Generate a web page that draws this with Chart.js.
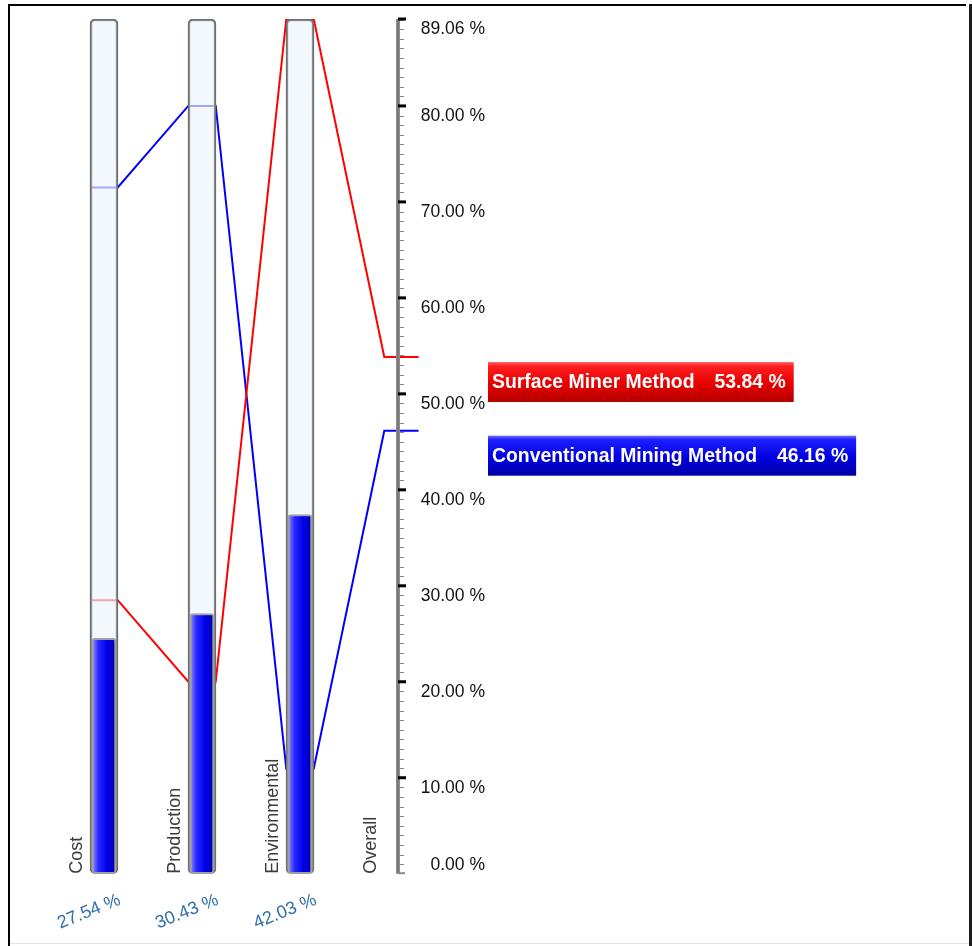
<!DOCTYPE html>
<html>
<head>
<meta charset="utf-8">
<script src="https://cdn.jsdelivr.net/npm/chart.js@4/dist/chart.umd.min.js"></script>
<style>
  html, body { margin: 0; padding: 0; background: #ffffff; }
  canvas { display: block; }
</style>
</head>
<body>
<canvas id="chart" width="972" height="946"></canvas>
<script>
// Criteria and their weights (percent of the goal)
const criteria = ['Cost', 'Production', 'Environmental'];
const overallLabel = 'Overall';
const weights = [27.54, 30.43, 42.03];

// Alternatives: performance on each criterion, and the overall result
const alternatives = ['Surface Miner Method', 'Conventional Mining Method'];
const surfaceMiner = [28.5, 20.0, 89.06];
const conventional = [71.5, 80.0, 10.94];
const overall = [53.84, 46.16];

// Performance axis
const axisTicks = [0, 10, 20, 30, 40, 50, 60, 70, 80, 89.06];
const axisTickLabels = ['0.00 %', '10.00 %', '20.00 %', '30.00 %', '40.00 %', '50.00 %',
                        '60.00 %', '70.00 %', '80.00 %', '89.06 %'];
const weightScaleMax = 100;

const FONT = '"Liberation Sans", Arial, Helvetica, sans-serif';
const altColors = ['#ff0000', '#0000ff'];
const HALF = 0.14;                 // half of a weight bar, in category units
const OV_LEFT = 0.14, OV_RIGHT = 0.21;

// Each alternative runs flat across every criterion bar, then on to the overall axis
function pathFor(values, total) {
  const pts = [];
  values.forEach((v, i) => {
    pts.push({ x: i - HALF, y: v }, { x: i + HALF, y: v });
  });
  const o = criteria.length;
  pts.push({ x: o - OV_LEFT, y: total }, { x: o + OV_RIGHT, y: total });
  return pts;
}

function weightFill(ctx) {
  const chart = ctx.chart;
  const xs = chart.scales && chart.scales.x;
  if (!xs || !ctx.parsed) return '#0000e0';
  const cx = xs.getPixelForValue(ctx.parsed.x);
  if (!Number.isFinite(cx)) return '#0000e0';
  const g = chart.ctx.createLinearGradient(cx - 11, 0, cx + 11, 0);
  g.addColorStop(0, '#8282ff');
  g.addColorStop(0.25, '#2828ff');
  g.addColorStop(0.65, '#0000ea');
  g.addColorStop(1, '#0000b4');
  return g;
}

// Page frame
const framePlugin = {
  id: 'frame',
  beforeDraw(chart) {
    const c = chart.ctx;
    c.save();
    c.fillStyle = '#ffffff';
    c.fillRect(0, 0, chart.width, chart.height);
    c.fillStyle = '#000000';
    c.fillRect(8, 4, 2, chart.height - 4);
    c.fillRect(8, 4, 958, 2);
    c.fillStyle = '#1c1c1c';
    c.fillRect(969, 4, 3, chart.height - 4);
    c.fillStyle = '#e4e4e4';
    c.fillRect(10, 943, 959, 1);
    c.restore();
  }
};

// Performance axis drawn at the "Overall" position
const axisPlugin = {
  id: 'perfAxis',
  afterDatasetsDraw(chart) {
    const c = chart.ctx;
    const xs = chart.scales.x, ys = chart.scales.y;
    const ax = xs.getPixelForValue(criteria.length);
    const yTop = ys.getPixelForValue(ys.max), yBot = ys.getPixelForValue(0);
    c.save();
    // minor ticks every 1 %
    c.strokeStyle = '#8a8a8a';
    c.lineWidth = 1;
    for (let v = 1; v < ys.max; v++) {
      if (v % 10 === 0) continue;
      const y = Math.round(ys.getPixelForValue(v)) + 0.5;
      c.beginPath(); c.moveTo(ax + 1, y); c.lineTo(ax + 6, y); c.stroke();
    }
    // axis line
    c.fillStyle = '#8c8c8c';
    c.fillRect(ax - 2, yTop, 4, yBot - yTop);
    c.fillStyle = '#6a6a6a';
    c.fillRect(ax - 0.5, yTop, 1, yBot - yTop);
    // major ticks and labels
    c.font = '17.5px ' + FONT;
    c.textAlign = 'right';
    c.textBaseline = 'middle';
    axisTicks.forEach((v, i) => {
      const y = ys.getPixelForValue(v);
      if (v === 0) {
        c.fillStyle = '#8a8a8a';
        c.fillRect(ax, y - 1.5, 7, 2);
      } else {
        c.fillStyle = '#000000';
        c.fillRect(ax, y - 1.5, 8, 3);
      }
      c.fillStyle = '#111111';
      c.fillText(axisTickLabels[i], ax + 87, v === 0 ? y - 9 : y + 10);
    });
    c.restore();
  }
};

// Criterion names, weight labels and the result boxes
const labelPlugin = {
  id: 'labels',
  afterDraw(chart) {
    const c = chart.ctx;
    const xs = chart.scales.x, ys = chart.scales.y;
    const base = ys.getPixelForValue(0);
    c.save();
    // rotated criterion names
    c.font = '18px ' + FONT;
    c.fillStyle = '#3c3c3c';
    c.textAlign = 'left';
    c.textBaseline = 'alphabetic';
    criteria.concat([overallLabel]).forEach((name, i) => {
      c.save();
      c.translate(xs.getPixelForValue(i) - 22, base);
      c.rotate(-Math.PI / 2);
      c.fillText(name, 0, 0);
      c.restore();
    });
    // weights under the bars
    c.font = '18px ' + FONT;
    c.fillStyle = '#2f6fae';
    c.textAlign = 'center';
    c.textBaseline = 'middle';
    weights.forEach((w, i) => {
      c.save();
      c.translate(xs.getPixelForValue(i) - 15, base + 38);
      c.rotate(-22 * Math.PI / 180);
      c.fillText(w.toFixed(2) + ' %', 0, 0);
      c.restore();
    });
    // overall result boxes
    const boxX = xs.getPixelForValue(criteria.length) + 90;
    const grads = [
      ['#ff6a6a', '#ff1e1e', '#e60000', '#b40000'],
      ['#6a6aff', '#1e1eff', '#0000e0', '#0000a8']
    ];
    c.font = 'bold 19.4px ' + FONT;
    c.textAlign = 'left';
    alternatives.forEach((name, k) => {
      const y0 = ys.getPixelForValue(overall[k]) + 5;
      const val = overall[k].toFixed(2) + ' %';
      const nameW = c.measureText(name).width;
      const valW = c.measureText(val).width;
      const w = 4 + nameW + 20 + valW + 8;
      const h = 40;
      const g = c.createLinearGradient(0, y0, 0, y0 + h);
      g.addColorStop(0, grads[k][0]);
      g.addColorStop(0.1, grads[k][1]);
      g.addColorStop(0.55, grads[k][2]);
      g.addColorStop(1, grads[k][3]);
      c.fillStyle = g;
      c.fillRect(boxX, y0, w, h);
      c.fillStyle = '#ffffff';
      c.textBaseline = 'middle';
      c.fillText(name, boxX + 4, y0 + h / 2 + 1);
      c.fillText(val, boxX + 4 + nameW + 20, y0 + h / 2 + 1);
    });
    c.restore();
  }
};

new Chart(document.getElementById('chart'), {
  type: 'bar',
  data: {
    datasets: [
      {
        type: 'line', label: alternatives[0],
        data: pathFor(surfaceMiner, overall[0]),
        borderColor: altColors[0], borderWidth: 2, pointRadius: 0, tension: 0,
        yAxisID: 'y', order: 3
      },
      {
        type: 'line', label: alternatives[1],
        data: pathFor(conventional, overall[1]),
        borderColor: altColors[1], borderWidth: 2, pointRadius: 0, tension: 0,
        yAxisID: 'y', order: 3
      },
      {
        type: 'bar', label: 'scale',
        data: criteria.map((c, i) => ({ x: i, y: weightScaleMax })),
        yAxisID: 'y2',
        backgroundColor: 'rgba(238,245,252,0.68)',
        borderColor: '#6e6e6e', borderWidth: 2, borderRadius: 5, borderSkipped: false,
        barThickness: 28, grouped: false, order: 2
      },
      {
        type: 'bar', label: 'weight',
        data: weights.map((w, i) => ({ x: i, y: w })),
        yAxisID: 'y2',
        backgroundColor: weightFill,
        borderColor: '#a0a0a0', borderWidth: 2, borderRadius: 3, borderSkipped: false,
        barThickness: 24, grouped: false, order: 1
      }
    ]
  },
  options: {
    responsive: false,
    animation: false,
    devicePixelRatio: 1,
    layout: { padding: { left: 6, right: 25.2, top: 19, bottom: 72.3 } },
    plugins: { legend: { display: false }, tooltip: { enabled: false } },
    scales: {
      x: { type: 'linear', min: -1, max: 8.6, offset: false, display: false },
      y: { min: 0, max: axisTicks[axisTicks.length - 1], display: false },
      y2: { min: 0, max: weightScaleMax, display: false }
    }
  },
  plugins: [framePlugin, axisPlugin, labelPlugin]
});
</script>
</body>
</html>
